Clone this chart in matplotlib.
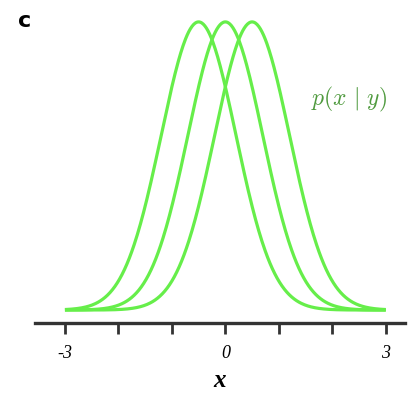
import numpy as np
import matplotlib
matplotlib.use("Agg")
import matplotlib.pyplot as plt

# Gaussian likelihood curves p(x | y)
means = [-0.5, 0.0, 0.5]
sigma = 0.7
tick_positions = [-3, -2, -1, 0, 1, 2, 3]
tick_labels = ["-3", "", "", "0", "", "", "3"]

curve_color = "#66ee4a"
text_color = "#4f9a3e"

fig = plt.figure(figsize=(4.09, 3.94), dpi=100)
ax = fig.add_axes([35 / 409, (394 - 323) / 394, 370 / 409, (323 - 15) / 394])

x = np.linspace(-3, 3, 400)
for m in means:
    y = np.exp(-0.5 * ((x - m) / sigma) ** 2)
    ax.plot(x, y, color=curve_color, lw=2.3, solid_capstyle="butt")

ax.set_xlim(-3.56, 3.36)
ax.set_ylim(-0.045, 1.024)

for side in ["top", "right", "left"]:
    ax.spines[side].set_visible(False)
ax.spines["bottom"].set_color("#333333")
ax.spines["bottom"].set_linewidth(2.4)
ax.set_yticks([])
ax.set_xticks(tick_positions)
ax.set_xticklabels(tick_labels, family="Liberation Serif", style="italic", fontsize=13)
ax.tick_params(axis="x", direction="out", length=8, width=2, color="#333333", pad=8)

ax.set_xlabel("x", family="Liberation Serif", style="italic", weight="bold", fontsize=18, labelpad=5)

ax.text(2.32, 0.73, r"$p(x\ |\ y)$", color=text_color, fontsize=17,
        math_fontfamily="cm", ha="center", va="center")

fig.text(18 / 409, 1 - 21 / 394, "c", fontsize=16, weight="heavy", family="DejaVu Sans",
         ha="left", va="center")

fig.savefig("out.png", dpi=100)
